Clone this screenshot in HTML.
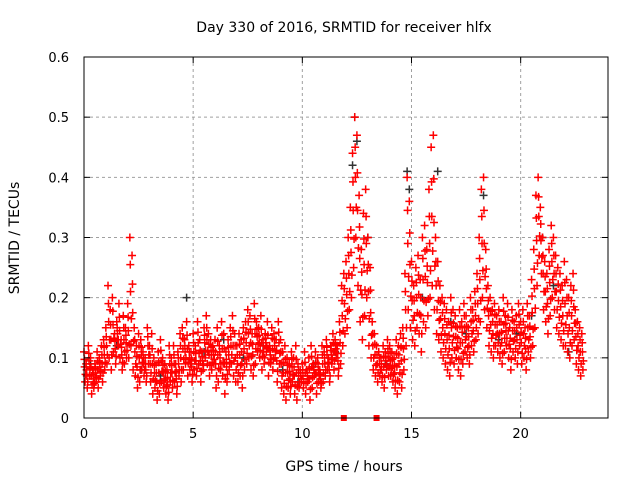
<!DOCTYPE html>
<html><head><meta charset="utf-8"><style>
html,body{margin:0;padding:0;background:#fff}
svg{display:block;font-family:"DejaVu Sans","Liberation Sans",sans-serif}
</style></head><body>
<svg id="chart" width="640" height="480">
<rect width="640" height="480" fill="#fff"/>
<g id="grid"></g>
<g id="marks"></g>
<rect x="84" y="57" width="524" height="361" fill="none" stroke="#000" stroke-width="1"/>
<g id="axes"></g>
<text x="344" y="32" font-size="14" text-anchor="middle">Day 330 of 2016, SRMTID for receiver hlfx</text>
<text x="344" y="471" font-size="14" text-anchor="middle">GPS time / hours</text>
<text transform="translate(19,238) rotate(-90)" font-size="14" text-anchor="middle">SRMTID / TECUs</text>
</svg>
<script>
const xTicks=[0,5,10,15,20];
const yTicks=[0,0.1,0.2,0.3,0.4,0.5,0.6];
const yTickLabels=["0","0.1","0.2","0.3","0.4","0.5","0.6"];
// values in hundredths of TECU, sampled every 0.1 h starting at 0
const upperCenti=[11,9,12,10,8,9,11,10,12,13, 15,22,18,20,14,16,19,13,17,15, 19,30,27,15,12,14,13,11,10,15, 12,14,10,9,11,13,10,9,8,12, 10,12,9,11,14,15,13,16,12,11, 14,12,16,13,11,15,17,14,13,12, 13,15,12,16,14,11,13,15,17,14, 12,14,13,15,16,18,17,14,19,16, 15,17,13,14,16,12,15,14,13,16, 13,11,12,10,9,11,10,12,9,8, 9,11,8,10,12,9,11,10,8,12, 11,13,10,12,14,13,12,16,22,24, 26,30,35,44,50,47,37,28,34,38, 30,25,16,14,12,11,10,12,11,13, 12,11,10,13,12,14,15,24,40,36, 26,22,25,27,23,30,32,28,38,45, 47,30,26,22,20,19,18,16,20,18, 17,15,18,16,19,17,15,20,18,21, 24,30,38,40,28,22,20,18,19,17, 18,16,20,17,19,15,18,16,17,19, 16,18,15,19,17,23,28,37,40,35, 30,26,24,28,32,30,27,25,24,22, 26,23,20,22,24,18,16,15,14];
const lowerCenti=[6,5,7,4,5,6,5,7,6,8, 9,10,8,11,9,12,10,8,9,10, 10,12,8,7,5,6,8,7,6,9, 6,4,5,3,4,6,5,4,3,6, 5,6,4,7,6,8,9,7,8,6, 8,7,9,6,8,10,9,7,8,9, 5,6,8,7,4,6,8,9,7,6, 6,7,5,8,9,10,8,7,9,11, 10,8,9,11,7,9,8,10,6,9, 5,4,3,5,4,6,4,3,5,6, 5,4,6,3,5,7,4,6,5,6, 7,8,6,9,8,10,7,9,12,14, 15,18,20,25,30,22,16,13,17,20, 12,10,8,7,6,7,6,5,8,7, 7,6,5,4,6,5,8,12,18,15, 13,12,15,14,11,16,15,17,20,22, 18,14,13,11,10,9,8,7,10,9, 10,8,7,9,11,10,9,12,11,13, 14,16,20,18,15,12,11,10,12,11, 10,9,11,12,10,8,11,10,9,12, 9,10,8,11,10,12,15,22,27,24, 18,16,14,17,20,18,15,14,13,12, 12,11,10,12,13,9,8,7,8];
const blackTimes=[0.3,1.5,2.6,3.5,4.7,5.5,6.4,7.3,8.2,9.1,9.8,10.6,11.5,12.3,12.4,12.5,13.0,13.8,14.8,14.9,15.5,16.2,16.8,17.5,18.3,19.0,19.8,20.5,21.0,21.5,22.2];
const blackValues=[0.09,0.12,0.08,0.07,0.20,0.11,0.13,0.10,0.12,0.08,0.06,0.09,0.11,0.42,0.50,0.46,0.30,0.09,0.41,0.38,0.20,0.41,0.16,0.14,0.37,0.13,0.14,0.17,0.30,0.22,0.11];
const bottomMarkTimes=[11.9,13.4];

const X0=84,X1=608,Y0=418,Y1=57;
const xs=t=>X0+t/24*(X1-X0);
const ys=v=>Y0-v/0.6*(Y0-Y1);
const NS="http://www.w3.org/2000/svg";
function mk(tag,attrs,parent){const e=document.createElementNS(NS,tag);for(const k in attrs)e.setAttribute(k,attrs[k]);parent.appendChild(e);return e;}
const grid=document.getElementById('grid'),axes=document.getElementById('axes'),marks=document.getElementById('marks');
xTicks.forEach(t=>{
  const x=xs(t);
  if(t>0){const g=mk('line',{x1:x,x2:x,y1:Y1,y2:Y0,stroke:'#a0a0a0','stroke-dasharray':'3,3'},grid);
  
  }
  mk('line',{x1:x,x2:x,y1:Y0,y2:Y0-6,stroke:'#000'},axes);
  mk('line',{x1:x,x2:x,y1:Y1,y2:Y1+6,stroke:'#000'},axes);
  const l=mk('text',{x:x,y:Y0+20,'font-size':13,'text-anchor':'middle'},axes);
  l.textContent=t;
  
  
});
yTicks.forEach((v,i)=>{
  const y=ys(v);
  if(i>0&&i<yTicks.length-1){const g=mk('line',{x1:X0,x2:X1,y1:y,y2:y,stroke:'#a0a0a0','stroke-dasharray':'3,3'},grid);
  
  }
  mk('line',{x1:X0,x2:X0+6,y1:y,y2:y,stroke:'#000'},axes);
  mk('line',{x1:X1,x2:X1-6,y1:y,y2:y,stroke:'#000'},axes);
  const l=mk('text',{x:X0-15,y:y+5,'font-size':13,'text-anchor':'end'},axes);
  l.textContent=yTickLabels[i];
  
  
});
function plus(t,v,col,name){
  const x=xs(t),y=ys(v);
  const p=mk('path',{d:`M${x-4},${y}H${x+4}M${x},${y-4}V${y+4}`,stroke:col,'stroke-width':1.5,fill:'none'},marks);
  
  
}
blackTimes.forEach((t,i)=>plus(t,blackValues[i],'#333','black-point'));
upperCenti.forEach((u,i)=>{
  const t=i*0.1,l=lowerCenti[i];
  plus(t,u/100,'#ff0000','red-point');
  plus(t+0.05,l/100,'#ff0000','red-point');
  plus(t+0.03,(u+l)/200,'#ff0000','red-point');
  plus(t+0.07,(u+3*l)/400,'#ff0000','red-point');
  plus(t+0.02,(3*u+l)/400,'#ff0000','red-point');
});
bottomMarkTimes.forEach(t=>{
  const r=mk('rect',{x:xs(t)-3,y:Y0-3,width:6,height:6,fill:'#ff0000'},marks);
  
  
});
</script>
</body></html>
